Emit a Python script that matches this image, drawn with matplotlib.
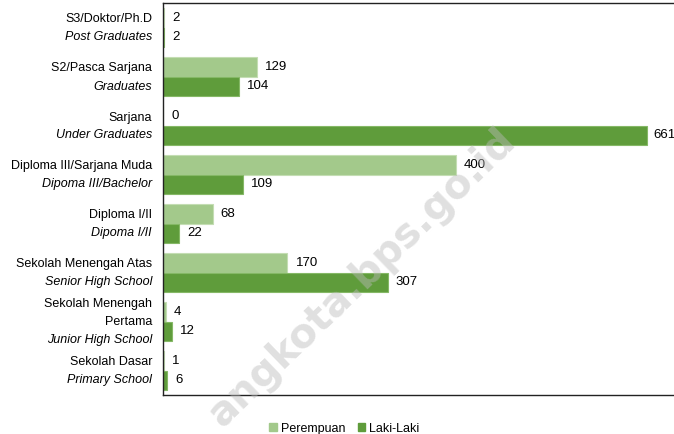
import matplotlib
matplotlib.use('Agg')
from matplotlib import pyplot as plt
from matplotlib.patches import Patch
import numpy as np

plt.rcParams['font.family'] = ['Liberation Sans Narrow', 'Liberation Sans', 'DejaVu Sans']

# data
kategori = ['S3/Doktor/Ph.D', 'S2/Pasca Sarjana', 'Sarjana', 'Diploma III/Sarjana Muda',
            'Diploma I/II', 'Sekolah Menengah Atas', 'Sekolah Menengah\nPertama', 'Sekolah Dasar']
kategori_en = ['Post Graduates', 'Graduates', 'Under Graduates', 'Dipoma III/Bachelor',
               'Dipoma I/II', 'Senior High School', 'Junior High School', 'Primary School']
perempuan = [2, 129, 0, 400, 68, 170, 4, 1]
laki_laki = [2, 104, 661, 109, 22, 307, 12, 6]

warna_p = '#a3c98b'
warna_l = '#5f9c3b'

fig = plt.figure(figsize=(6.74, 4.35), dpi=100)
ax = fig.add_axes([163 / 674, 39 / 435, 1 - 163 / 674, 392 / 435])

y = np.arange(len(kategori))
h = 0.4
ax.barh(y - h / 2, perempuan, height=h, color=warna_p, edgecolor='#c4ddb3', linewidth=0.8)
ax.barh(y + h / 2, laki_laki, height=h, color=warna_l, edgecolor='#85b866', linewidth=0.8)

ax.set_xlim(0, 698)
ax.set_ylim(len(kategori) - 0.5, -0.5)

# label nilai
fs = 9
for i in range(len(kategori)):
    ax.annotate(str(perempuan[i]), xy=(perempuan[i], y[i] - h / 2), xytext=(8, 1),
                textcoords='offset pixels', va='center', ha='left', fontsize=fs + 0.5)
    ax.annotate(str(laki_laki[i]), xy=(laki_laki[i], y[i] + h / 2), xytext=(6 if laki_laki[i] > 600 else 8, 1),
                textcoords='offset pixels', va='center', ha='left', fontsize=fs + 0.5)

# label kategori (baris pertama normal, baris kedua miring)
trans = ax.get_yaxis_transform()
lh = 18
for i in range(len(kategori)):
    baris = kategori[i].split('\n') + [kategori_en[i]]
    n = len(baris)
    for j, teks in enumerate(baris):
        off = (n - 1) / 2 * lh - j * lh
        gaya = 'italic' if j == n - 1 else 'normal'
        ax.annotate(teks, xy=(0, y[i]), xycoords=trans, xytext=(-11, off),
                    textcoords='offset pixels', ha='right', va='center',
                    fontsize=fs, style=gaya)

ax.set_xticks([])
ax.set_yticks([])
ax.spines['right'].set_visible(False)
for s in ['left', 'top', 'bottom']:
    ax.spines[s].set_linewidth(1.0)
    ax.spines[s].set_color('#222222')

# legenda
handles = [Patch(color=warna_p, label='Perempuan'), Patch(color=warna_l, label='Laki-Laki')]
fig.legend(handles=handles, loc='center left', bbox_to_anchor=(263 / 674, 6 / 435),
           ncol=2, frameon=False, fontsize=fs, handlelength=0.6, handleheight=0.6,
           handletextpad=0.3, columnspacing=1.0, borderpad=0)

# watermark
fig.text(362 / 674, 1 - 278 / 435, 'angkota.bps.go.id', rotation=44, ha='center', va='center',
         fontsize=29, fontweight='bold', color='#bbbbbb', alpha=0.45,
         family='DejaVu Sans')

fig.savefig('out.png', dpi=100)
